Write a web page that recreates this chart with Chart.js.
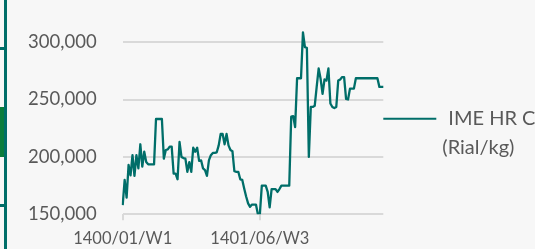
<!DOCTYPE html>
<html><head><meta charset="utf-8">
<script src="https://cdn.jsdelivr.net/npm/chart.js@4.4.1/dist/chart.umd.min.js"></script>
<style>
html,body{margin:0;padding:0;background:#f7f7f7;width:535px;height:249px;overflow:hidden;}
#wrap{position:absolute;left:0;top:-30px;width:535px;height:285px;}
.deco{position:absolute;}
</style></head><body>
<div id="wrap"><canvas id="c"></canvas></div>
<div class="deco" style="left:4px;top:0;width:3px;height:249px;background:#006e69"></div>
<div class="deco" style="left:0;top:47px;width:4px;height:3px;background:#006e69"></div>
<div class="deco" style="left:0;top:204px;width:4px;height:3px;background:#006e69"></div>
<div class="deco" style="left:0;top:107px;width:4px;height:50px;background:#0a7d3c"></div>
<script>
const seriesName = "IME HR Coil (Rial/kg)";
const legendLines = ["IME HR Coil", "(Rial/kg)"];
const tickLabels = ["1400/01/W1", "1401/06/W3"];
const values = [
158000,180000,164500,193000,184000,201500,183500,201500,190000,211000,
191500,204500,195500,193500,193500,193500,193500,233000,233000,233000,
233000,198500,206000,206500,209000,209000,185500,185500,180500,213000,
200000,199000,198500,187000,195500,187000,208000,204500,208000,196500,
197000,190000,188500,183500,197000,201500,203500,203500,204000,210000,
220000,220000,211000,220000,210000,206000,205000,187500,187000,187000,
180500,180000,172500,165500,159500,156500,158500,158500,158500,150000,
150000,175000,175000,175000,169500,156000,172000,172000,172000,169500,
172000,175000,175000,175000,175000,175000,235000,235500,226000,268500,
268500,268500,308500,295500,295000,200000,243500,243500,244500,261000,
277000,268000,255000,267500,266500,277000,246500,243500,242500,243500,
266500,267500,269500,269500,250500,250000,259500,259500,259500,268500,
268500,268500,268500,268500,268500,268500,268500,268500,268500,268500,
268500,261000,261000,261000];
// weekly categories: year/month/week (4 weeks per month)
const categories = [];
for (let i = 0; i < values.length; i++) {
  const y = 1400 + Math.floor(i / 48);
  const m = Math.floor((i % 48) / 4) + 1;
  const w = (i % 4) + 1;
  categories.push(y + "/" + String(m).padStart(2, "0") + "/W" + w);
}

const lineColor = "#006e69";
const textColor = "#595959";
Chart.defaults.font.family = "Lato";

const sideLegend = {
  id: "sideLegend",
  afterDraw(chart) {
    const ctx = chart.ctx;
    const ds = chart.data.datasets[0];
    const ca = chart.chartArea;
    ctx.save();
    ctx.strokeStyle = ds.borderColor;
    ctx.lineWidth = 2;
    ctx.beginPath();
    ctx.moveTo(ca.right, 148.7);
    ctx.lineTo(ca.right + 53, 148.7);
    ctx.stroke();
    ctx.fillStyle = textColor;
    ctx.font = "20px Lato";
    ctx.textBaseline = "alphabetic";
    ctx.textAlign = "left";
    ctx.fillText(legendLines[0], ca.right + 65, 155);
    ctx.fillText(legendLines[1], ca.right + 59, 184);
    ctx.restore();
  }
};

new Chart(document.getElementById("c"), {
  type: "line",
  data: {
    labels: categories,
    datasets: [{
      label: seriesName,
      data: values,
      borderColor: lineColor,
      borderWidth: 2.3,
      borderJoinStyle: "round",
      pointRadius: 0,
      tension: 0,
      fill: false
    }]
  },
  options: {
    responsive: true,
    maintainAspectRatio: false,
    devicePixelRatio: 1,
    animation: false,
    layout: { padding: { left: 0, right: 151.7, top: 14.7, bottom: 0 } },
    plugins: { legend: { display: false }, tooltip: { enabled: false } },
    scales: {
      x: {
        type: "category",
        afterBuildTicks: s => { s.ticks = tickLabels.map(l => ({ value: categories.indexOf(l) })); },
        afterFit: s => { s.height = 40.7; s.paddingLeft = 0; s.paddingRight = 0; },
        grid: { drawOnChartArea: false, drawTicks: true, tickLength: 6, color: "#d9d9d9", lineWidth: 2 },
        border: { display: false },
        ticks: { autoSkip: false, maxRotation: 0, minRotation: 0, padding: 8, color: textColor, font: { size: 16.5 } }
      },
      y: {
        min: 150000, max: 350000,
        afterFit: s => { s.width = 122.7; s.paddingTop = 0; s.paddingBottom = 0; },
        grid: { color: "#d9d9d9", lineWidth: 2, drawTicks: false },
        border: { display: false },
        ticks: { stepSize: 50000, padding: 26, color: textColor, font: { size: 18.5 },
          callback: v => Number(v).toLocaleString("en-US") }
      }
    }
  },
  plugins: [sideLegend]
});
</script>
</body></html>
